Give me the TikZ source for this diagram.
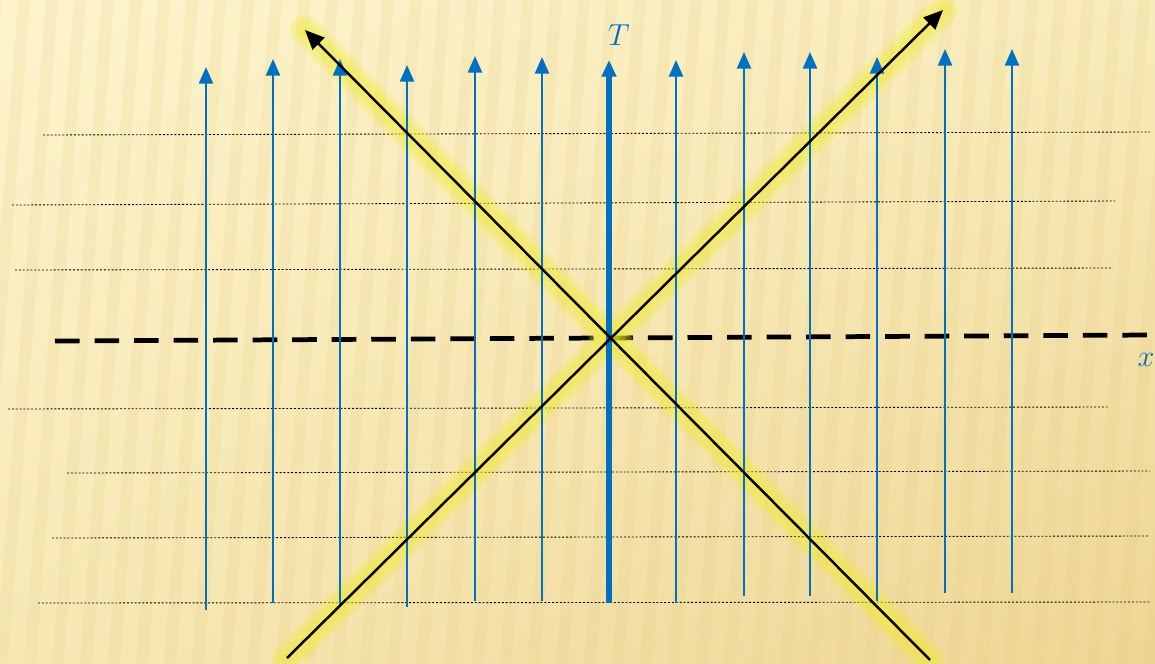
\documentclass[tikz,border=0pt]{standalone}
\usetikzlibrary{arrows.meta, shadings}

\definecolor{wlblue}{RGB}{0,112,192}
\definecolor{glow}{RGB}{240,236,40}
\definecolor{paperlight}{RGB}{253,244,204}
\definecolor{paperdark}{RGB}{238,214,148}
\definecolor{stripe}{RGB}{228,200,120}

\tikzset{
  worldline/.style={wlblue, line width=1.4pt, -{Triangle[length=9.5pt,width=8pt]}},
  lightray/.style={black, line width=1.4pt, -{Triangle[length=11pt,width=9.5pt]}},
  halo/.style={glow, line width=#1, opacity=0.22, line cap=round},
  simline/.style={black, line width=0.5pt, dash pattern=on 1.1pt off 1.1pt},
  spaceaxis/.style={black, line width=2.7pt, dash pattern=on 14pt off 8.5pt},
  axislabel/.style={wlblue, font=\fontsize{17}{19}\selectfont},
}

\begin{document}
\begin{tikzpicture}[x=0.02cm, y=-0.02cm]
    \useasboundingbox (0,0) rectangle (1155,663);
    % paper
    \shade[upper left=paperlight, upper right=paperlight!70!paperdark,
           lower left=paperlight!60!paperdark, lower right=paperdark]
        (0,0) rectangle (1155,663);
    \begin{scope}
        \clip (0,0) rectangle (1155,663);
        \foreach \s in {-60,-32,...,1200}
            \fill[stripe, opacity=0.14] (\s+50,0) -- (\s+62,0) -- (\s+12,663) -- (\s,663) -- cycle;
    \end{scope}

    % lines of simultaneity
    \foreach \n/\xa/\ya/\xb/\yb in {1/43/135/1150/132, 2/12/205/1115/201, 3/15/270/1113/268,
                                    4/8/409/1108/407, 5/67/473/1150/471, 6/52/538/1150/536,
                                    7/38/603/1150/602} {
        \coordinate (s\n l) at (\xa,\ya);
        \coordinate (s\n r) at (\xb,\yb);
        \draw[simline] (s\n l) -- (s\n r);
    }

    % space axis
    \coordinate (xl) at (55,341);
    \coordinate (xr) at (1150,335);
    \draw[spaceaxis] (xl) -- (xr);
    \node[axislabel] (xlab) at (1146,360) {$x$};

    % glow of the light cone
    \coordinate (ra) at (287,658);
    \coordinate (rb) at (943,10);
    \coordinate (la) at (930,660);
    \coordinate (lb) at (305,30);
    \foreach \w in {17pt,12pt,7pt} {
        \draw[halo=\w] (ra) -- (rb);
        \draw[halo=\w] (la) -- (lb);
    }

    % world lines
    \foreach \n/\px/\pt/\pb in {1/206/67/610, 2/273/59/603, 3/340/59/604, 4/407/65/607,
                                5/475/56/601, 6/542/57/601, 8/676/60/603, 9/744/52/596,
                                10/810/52/596, 11/877/57/601, 12/945/49/593, 13/1012/49/593} {
        \coordinate (w\n b) at (\px,\pb);
        \coordinate (w\n t) at (\px,\pt);
        \draw[worldline] (w\n b) -- (w\n t);
    }
    \coordinate (w7b) at (609,603);
    \coordinate (w7t) at (609,60);
    \draw[worldline, line width=3.2pt] (w7b) -- (w7t);
    \node[axislabel] (tlab) at (619,35) {$T$};

    % light cone
    \draw[lightray] (ra) -- (rb);
    \draw[lightray] (la) -- (lb);
\end{tikzpicture}
\end{document}
